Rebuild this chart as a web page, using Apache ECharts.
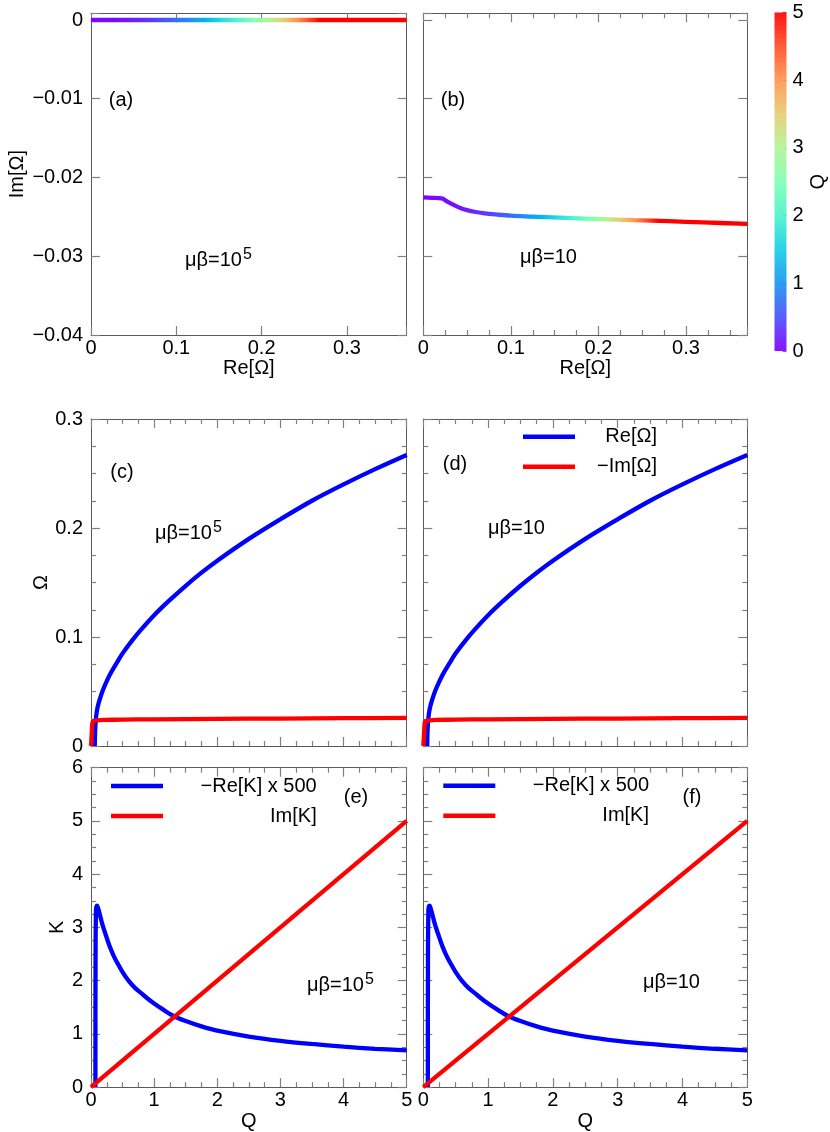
<!DOCTYPE html>
<html><head><meta charset="utf-8">
<script src="https://cdn.jsdelivr.net/npm/echarts@6/dist/echarts.min.js"></script>
<style>html,body{margin:0;padding:0;background:#fff}#c{width:830px;height:1132px}</style>
</head><body><div id="c"></div>
<script>
// ---------- data ----------
// (a) mu*beta = 1e5 : Im[Omega] vs Re[Omega]
const reA = [0, 0.1, 0.2, 0.3, 0.37];
const imA = [0, 0, 0, 0, 0];
// (b) mu*beta = 10 : Im[Omega] vs Re[Omega]
const reB = [0, 0.01, 0.021, 0.028, 0.035, 0.043, 0.05, 0.06, 0.07, 0.085, 0.1, 0.12, 0.14, 0.17, 0.2, 0.24, 0.28, 0.32, 0.37];
const imB = [-0.02253, -0.02258, -0.02266, -0.0231, -0.0235, -0.0239, -0.02414, -0.02438, -0.02456, -0.02472, -0.02485, -0.02495, -0.02503, -0.02515, -0.02527, -0.02542, -0.02555, -0.0257, -0.0259];
// (c),(d) Omega vs Q
const qRe = [0.06, 0.065, 0.075, 0.09, 0.11, 0.14, 0.18, 0.23, 0.3, 0.4, 0.5, 0.65, 0.8, 1.0, 1.25, 1.5, 1.75, 2.0, 2.5, 3.0, 3.5, 4.0, 4.5, 5.0];
const reOmega = [0, 0.013, 0.023, 0.031, 0.037, 0.043, 0.05, 0.057, 0.0655, 0.0755, 0.085, 0.0967, 0.1072, 0.12, 0.134, 0.147, 0.159, 0.17, 0.19, 0.208, 0.225, 0.24, 0.254, 0.267];
const qIm = [0, 0.012, 0.02, 0.03, 0.05, 0.1, 0.2, 0.5, 1, 2, 3, 4, 5];
const negImOmega = [0, 0.012, 0.0205, 0.0225, 0.0232, 0.0236, 0.0239, 0.0242, 0.0245, 0.0249, 0.0252, 0.0255, 0.0258];
// (e),(f) K vs Q
const qK = [0.07, 0.072, 0.078, 0.085, 0.095, 0.105, 0.12, 0.14, 0.17, 0.2, 0.25, 0.3, 0.35, 0.4, 0.5, 0.6, 0.7, 0.8, 0.9, 1.0, 1.15, 1.3, 1.5, 1.75, 2.0, 2.5, 3.0, 3.5, 4.0, 4.5, 5.0];
const negReK500 = [0, 2.4, 3.3, 3.39, 3.41, 3.39, 3.33, 3.24, 3.1, 2.98, 2.8, 2.63, 2.49, 2.37, 2.16, 1.99, 1.86, 1.76, 1.66, 1.57, 1.45, 1.34, 1.24, 1.14, 1.06, 0.95, 0.87, 0.81, 0.76, 0.72, 0.69];
const qImK = [0, 5];
const imK = [0, 5];
// colour bar
const cbTicks = [0, 1, 2, 3, 4, 5];
const cbMax = 5;

// ---------- styling helpers ----------
const FONT = "'Liberation Sans', Arial, Helvetica, sans-serif";
const FRAME = '#5a5a5a', TICK = '#808080';
const zip = (a, b) => a.map((v, i) => [v, b[i]]);

function rainbow(t) { // gnuplot rgbformulae 33,13,10
  t = Math.max(0, Math.min(1, t));
  const r = Math.min(1, Math.abs(2 * t - 0.5)), g = Math.max(0, Math.sin(Math.PI * t)), b = Math.max(0, Math.cos(Math.PI * t / 2));
  return 'rgb(' + Math.round(r * 255) + ',' + Math.round(g * 255) + ',' + Math.round(b * 255) + ')';
}
const RE_MAX = reA[reA.length - 1];
const qMax = cbTicks[cbTicks.length - 1];
const lineStops = [{ offset: 0, color: rainbow(0) }];
qRe.forEach((q, i) => { if (reOmega[i] > 0) lineStops.push({ offset: reOmega[i] / RE_MAX, color: rainbow(q / qMax) }); });
lineStops.push({ offset: 1, color: rainbow(1) });
const lineGrad = () => ({ type: 'linear', x: 0, y: 0, x2: 1, y2: 0, colorStops: lineStops });
const cbStops = [];
for (let i = 0; i <= 10; i++) cbStops.push({ offset: i / 10, color: rainbow(i / 10) });

function fmt(interval) {
  return v => {
    const k = v / interval;
    if (Math.abs(k - Math.round(k)) > 1e-6) return '';
    const r = Math.round(k) * interval;
    if (Math.abs(r) < 1e-12) return '0';
    return parseFloat(r.toFixed(6)).toString().replace('-', '\u2212');
  };
}
const txt = { fontFamily: FONT, fontSize: 20, color: '#000' };

function axisBase(g, o) {
  return {
    type: 'value', gridIndex: g, min: o.min, max: o.max, interval: o.interval,
    axisLine: { show: true, onZero: false, lineStyle: { color: FRAME, width: 1 } },
    axisTick: { show: true, inside: true, length: 9, lineStyle: { color: TICK, width: 1.2 } },
    minorTick: { show: !!o.minor, splitNumber: 4, length: 5, lineStyle: { color: TICK, width: 1.2 } },
    splitLine: { show: false }, minorSplitLine: { show: false }
  };
}
function pair(g, o, posMain, posMirror, margin) {
  const main = Object.assign(axisBase(g, o), {
    position: posMain,
    axisLabel: Object.assign({ show: !!o.labels, showMinLabel: true, showMaxLabel: true, margin: margin, formatter: fmt(o.interval) }, txt),
    name: o.name || '', nameLocation: 'middle', nameGap: o.nameGap || 0, nameTextStyle: Object.assign({}, txt)
  });
  const mirror = Object.assign(axisBase(g, o), { position: posMirror, axisLabel: { show: false } });
  return [main, mirror];
}

const grids = [
  { left: 91, top: 13.3, width: 315.7, height: 321.7 },    // a
  { left: 423.3, top: 13.3, width: 324, height: 321.7 },   // b
  { left: 91, top: 419, width: 315.7, height: 327 },       // c
  { left: 423.3, top: 419, width: 324, height: 327 },      // d
  { left: 91, top: 767.7, width: 315.7, height: 320 },     // e
  { left: 423.3, top: 767.7, width: 324, height: 320 },    // f
  { left: 774.5, top: 12.5, width: 12, height: 338.5 }     // colour bar
];

const xAxes = [], yAxes = [];
const xCfg = [
  { min: 0, max: 0.37, interval: 0.1, labels: true, minor: false, name: 'Re[Ω]', nameGap: 22 },
  { min: 0, max: 0.37, interval: 0.1, labels: true, minor: true, name: 'Re[Ω]', nameGap: 22 },
  { min: 0, max: 5, interval: 1, labels: false, minor: true },
  { min: 0, max: 5, interval: 1, labels: false, minor: true },
  { min: 0, max: 5, interval: 1, labels: true, minor: true, name: 'Q', nameGap: 21 },
  { min: 0, max: 5, interval: 1, labels: true, minor: true, name: 'Q', nameGap: 21 }
];
const yCfg = [
  { min: -0.04, max: 0.00085, interval: 0.01, labels: true, minor: false, name: 'Im[Ω]', nameGap: 64 },
  { min: -0.04, max: 0.00085, interval: 0.01, labels: false, minor: false },
  { min: 0, max: 0.3, interval: 0.1, labels: true, minor: true, name: 'Ω', nameGap: 34 },
  { min: 0, max: 0.3, interval: 0.1, labels: false, minor: true },
  { min: 0, max: 6, interval: 1, labels: true, minor: true, name: 'K', nameGap: 23 },
  { min: 0, max: 6, interval: 1, labels: false, minor: true }
];
for (let g = 0; g < 6; g++) {
  xAxes.push(...pair(g, xCfg[g], 'bottom', 'top', 3));
  yAxes.push(...pair(g, yCfg[g], 'left', 'right', 8));
}
// colour bar axes (index 12)
xAxes.push({ type: 'category', gridIndex: 6, data: ['Q'], show: false });
yAxes.push({
  type: 'value', gridIndex: 6, min: cbTicks[0], max: qMax, interval: 1, position: 'right',
  axisLine: { show: false }, axisTick: { show: true, inside: true, length: 4, lineStyle: { color: '#777', width: 1.2 } },
  splitLine: { show: false },
  axisLabel: Object.assign({ margin: 6, showMinLabel: true, showMaxLabel: true }, txt),
  name: 'Q', nameLocation: 'middle', nameRotate: 90, nameGap: 22, nameTextStyle: Object.assign({}, txt)
});

const BLUE = '#0000ff', RED = '#ff0000', LW = 4.3;
function line(name, data, g, color, smooth) {
  return {
    type: 'line', name: name, data: data, xAxisIndex: 2 * g, yAxisIndex: 2 * g,
    showSymbol: false, symbol: 'none', color: color, lineStyle: { color: color, width: LW }, silent: true, z: 3,
    smooth: smooth ? 0.35 : false
  };
}
const series = [
  Object.assign(line('a-curve', zip(reA, imA), 0, '#8000ff'), { lineStyle: { color: lineGrad(), width: 4.3 } }),
  Object.assign(line('b-curve', zip(reB, imB), 1, '#8000ff', true), { lineStyle: { color: lineGrad(), width: 4.3 } }),
  line('Re[Ω]', zip(qRe, reOmega), 2, BLUE, true),
  line('\u2212Im[Ω]', zip(qIm, negImOmega), 2, RED, true),
  line('Re[Ω]', zip(qRe, reOmega), 3, BLUE, true),
  line('\u2212Im[Ω]', zip(qIm, negImOmega), 3, RED, true),
  line('\u2212Re[K] x 500', zip(qK, negReK500), 4, BLUE, true),
  line('Im[K]', zip(qImK, imK), 4, RED),
  line('\u2212Re[K] x 500', zip(qK, negReK500), 5, BLUE, true),
  line('Im[K]', zip(qImK, imK), 5, RED),
  {
    type: 'bar', name: 'colorbar', xAxisIndex: 12, yAxisIndex: 12, data: [cbMax], barWidth: '100%', silent: true, z: 1,
    itemStyle: { color: { type: 'linear', x: 0, y: 1, x2: 0, y2: 0, colorStops: cbStops }, opacity: 0.92 }
  }
];

function legendCfg(names, left, top, textWidth) {
  return {
    data: names.map(n => ({ name: n, icon: 'rect' })), left: left, top: top, orient: 'vertical',
    itemWidth: 52, itemHeight: 4.5, itemGap: 10, padding: 0, selectedMode: false,
    formatter: n => '{r|' + n + '}',
    textStyle: Object.assign({ rich: { r: { width: textWidth, align: 'right', fontFamily: FONT, fontSize: 20, lineHeight: 20, color: '#000' } } }, txt)
  };
}
const legends = [
  legendCfg(['Re[Ω]', '\u2212Im[Ω]'], 523, 426.7, 77),
  legendCfg(['\u2212Re[K] x 500', 'Im[K]'], 111, 776, 148.7),
  legendCfg(['\u2212Re[K] x 500', 'Im[K]'], 443.3, 775.7, 148.7)
];

function label(t, x, y) {
  return { type: 'text', x: x, y: y, z: 10, style: { text: t, font: '20px ' + FONT, fill: '#000', align: 'center', verticalAlign: 'middle' } };
}
function mb(t, sup, x, y) {
  return {
    type: 'text', x: x, y: y, z: 10,
    style: {
      text: t + (sup ? '{s|' + sup + '}' : ''), font: '20px ' + FONT, fill: '#000', align: 'left', verticalAlign: 'middle',
      rich: { s: { fontSize: 16, fontFamily: FONT, fill: '#000', padding: [0, 0, 11, 1] } }
    }
  };
}
const graphics = [
  label('(a)', 121, 100), mb('μβ=10', '5', 185, 260),
  label('(b)', 453, 100), mb('μβ=10', '', 520, 257),
  label('(c)', 122, 472), mb('μβ=10', '5', 155, 533),
  label('(d)', 455, 464), mb('μβ=10', '', 488, 528),
  label('(e)', 356, 797), mb('μβ=10', '5', 307, 985),
  label('(f)', 692, 797), mb('μβ=10', '', 643, 982)
];

const chart = echarts.init(document.getElementById('c'), null, { renderer: 'canvas' });
chart.setOption({
  backgroundColor: '#fff', animation: false,
  textStyle: { fontFamily: FONT },
  grid: grids, xAxis: xAxes, yAxis: yAxes, series: series, legend: legends, graphic: graphics
});
</script></body></html>
